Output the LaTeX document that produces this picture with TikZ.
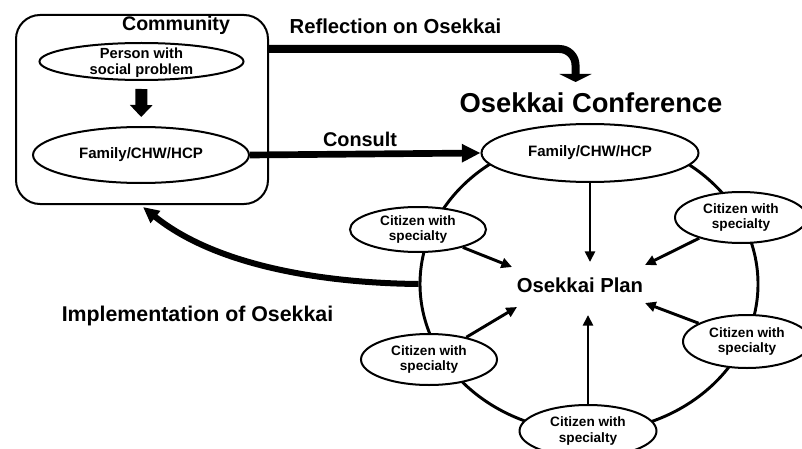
\documentclass[tikz,border=0pt]{standalone}
\usepackage{fontspec}
\setmainfont{Liberation Sans}
\usetikzlibrary{shapes.geometric,arrows.meta}
\begin{document}
\begin{tikzpicture}[x=0.75pt,y=-0.75pt,
  oval/.style={ellipse, draw, fill=white, line width=1.5pt, inner sep=0pt},
  small/.style={font=\bfseries\fontsize{10.2}{11.8}\selectfont, align=center, inner sep=0pt},
  big/.style={font=\bfseries\fontsize{15.2}{18}\selectfont, inner sep=0pt},
  thinarrow/.style={line width=2.2pt, -{Triangle[length=8pt,width=7.5pt]}},
]
\useasboundingbox (0,0) rectangle (802,449);

% Community box
\node[draw, line width=1.5pt, rounded corners=18pt, minimum width=189pt, minimum height=141.75pt] (comm) at (142,109.5) {};
\node[font=\bfseries\fontsize{14.7}{17}\selectfont, inner sep=0pt] (commlbl) at (176,25) {Community};
\node[oval, minimum width=153pt, minimum height=27.75pt,
  label={[align=center, inner sep=0pt, yshift=-1pt, font=\bfseries\fontsize{11}{12.2}\selectfont]center:Person with\\social problem}] (pers) at (141.5,61.5) {};
\node[oval, minimum width=162pt, minimum height=42pt,
  label={[small, font=\bfseries\fontsize{11.3}{13}\selectfont]center:Family/CHW/HCP}] (fam1) at (141,155) {};
\draw[line width=9pt, shorten <=6pt, shorten >=6.75pt, -{Triangle[length=9pt,width=16.5pt]}] (pers) -- (fam1);

% Conference circle
\node[ellipse, draw, line width=2.2pt, minimum width=253.5pt, minimum height=222pt, inner sep=0pt] (conf) at (589,284) {};
\node[font=\bfseries\fontsize{20.5}{24}\selectfont, inner sep=0pt] (conflbl) at (591,103) {Osekkai Conference};
\node[big] (plan) at (580,285) {Osekkai Plan};

\node[oval, minimum width=162.75pt, minimum height=43.5pt,
  label={[small, font=\bfseries\fontsize{11.3}{13}\selectfont]center:Family/CHW/HCP}] (fam2) at (590,153) {};
\node[oval, minimum width=102pt, minimum height=33.75pt,
  label={[small]center:Citizen with\\specialty}] (c1) at (418,229.5) {};
\node[oval, minimum width=99pt, minimum height=38.25pt,
  label={[small]center:Citizen with\\specialty}] (c2) at (741,217.5) {};
\node[oval, minimum width=96pt, minimum height=39.75pt,
  label={[small]center:Citizen with\\specialty}] (c3) at (747,341.5) {};
\node[oval, minimum width=102.75pt, minimum height=39pt,
  label={[small]center:Citizen with\\specialty}] (c4) at (588,431) {};
\node[oval, minimum width=102pt, minimum height=38.25pt,
  label={[small]center:Citizen with\\specialty}] (c5) at (429,359.5) {};

% arrow targets around the plan
\coordinate (t0) at (590,262);
\coordinate (t1) at (512,267);
\coordinate (t2) at (645,265);
\coordinate (t3) at (645,303);
\coordinate (t4) at (588,315);
\coordinate (t5) at (517,307);
\draw[thinarrow] (fam2) -- (t0);
\draw[thinarrow] (c1) -- (t1);
\draw[thinarrow] (c2) -- (t2);
\draw[thinarrow] (c3) -- (t3);
\draw[thinarrow] (c4) -- (t4);
\draw[thinarrow] (c5) -- (t5);

% Consult
\draw[line width=5pt, -{Triangle[length=14pt,width=13pt]}] (fam1.east) -- (fam2.west);
\node[big, font=\bfseries\fontsize{14.9}{18}\selectfont] (consultlbl) at (360,139) {Consult};

% Reflection
\coordinate (rc) at (575.5,49);
\coordinate (rt) at (575.5,82);
\draw[line width=6pt, rounded corners=12pt, -{Triangle[length=6pt,width=24pt]}] (comm.east |- rc) -- (rc) -- (rt);
\node[big] (refllbl) at (395.5,26) {Reflection on Osekkai};

% Implementation
\coordinate (impl) at (143,207);
\draw[line width=4.5pt, -{Triangle[length=12pt,width=11pt]}] (conf.west) .. controls (320,283) and (215,265) .. (impl);
\node[big, font=\bfseries\fontsize{16}{18}\selectfont] (impllbl) at (197.5,316) {Implementation of Osekkai};
\end{tikzpicture}
\end{document}
